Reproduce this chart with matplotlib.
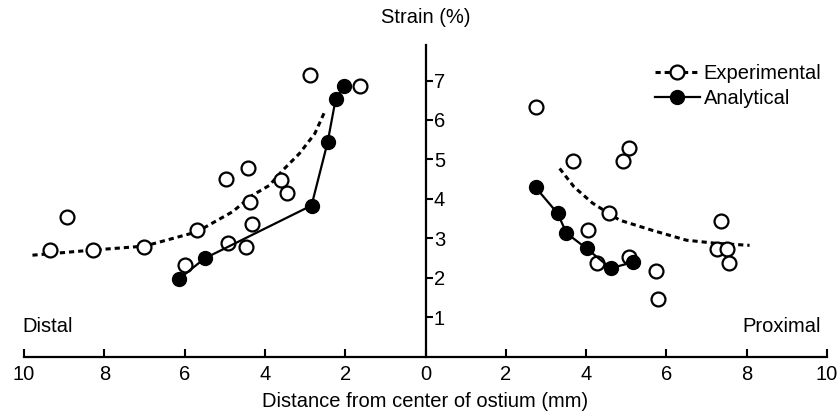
#!/usr/bin/env python3
"""Strain vs distance from ostium centre: experimental and analytical."""

import matplotlib
matplotlib.use("Agg")
import matplotlib.pyplot as plt

# distances are signed: distal side negative, proximal positive (mm)
exp_x = [-9.36, -8.92, -8.29, -7.0, -5.70, -5.98, -4.93, -4.48, -4.31, -4.36,
         -2.89, -1.62, -4.96, -4.43, -3.59, -3.46,
         2.76, 3.66, 4.91, 5.06, 4.56, 4.04, 4.26, 5.06, 5.73, 5.78,
         7.37, 7.25, 7.50, 7.55]
exp_y = [2.70, 3.53, 2.70, 2.77, 3.20, 2.32, 2.87, 2.77, 3.35, 3.92,
         7.13, 6.85, 4.49, 4.77, 4.47, 4.14,
         6.34, 4.95, 4.95, 5.28, 3.63, 3.22, 2.37, 2.52, 2.16, 1.46,
         3.43, 2.72, 2.72, 2.37]

ana_left_x = [-6.15, -5.50, -2.84, -2.44, -2.24, -2.02]
ana_left_y = [1.96, 2.49, 3.83, 5.43, 6.52, 6.85]
ana_right_x = [2.74, 3.29, 3.51, 4.01, 4.61, 5.16]
ana_right_y = [4.29, 3.63, 3.13, 2.74, 2.24, 2.39]

# dashed trend curves
fit_left_x = [-9.79, -9.2, -8.29, -7.0, -5.70, -4.81, -4.31, -3.89, -3.56, -3.14, -2.76, -2.52]
fit_left_y = [2.57, 2.62, 2.70, 2.80, 3.16, 3.67, 4.09, 4.34, 4.72, 5.15, 5.65, 6.19]
fit_right_x = [3.34, 3.7, 4.16, 4.83, 5.65, 6.50, 7.25, 8.07]
fit_right_y = [4.77, 4.30, 3.89, 3.46, 3.20, 2.95, 2.87, 2.82]

xticks = [-10, -8, -6, -4, -2, 0, 2, 4, 6, 8, 10]
xtick_labels = [str(abs(v)) for v in xticks]
yticks = [1, 2, 3, 4, 5, 6, 7]

FS = 14.5
plt.rcParams["font.family"] = ["Liberation Sans", "DejaVu Sans"]
plt.rcParams["font.size"] = FS

fig = plt.figure(figsize=(8.4, 4.17), dpi=100)
ax = fig.add_axes([0.0286, 0.145, 0.956, 0.747])

dash = (0, (1.7, 1.3))
lw = 2.2
ms = 10
mew = 1.6

ax.plot(fit_left_x, fit_left_y, color="black", lw=lw, linestyle=dash, zorder=2)
ax.plot(fit_right_x, fit_right_y, color="black", lw=lw, linestyle=dash, zorder=2)

ax.plot(exp_x, exp_y, linestyle="none", marker="o", ms=ms,
        mfc="white", mec="black", mew=mew, zorder=3)

for xs, ys in [(ana_left_x, ana_left_y), (ana_right_x, ana_right_y)]:
    ax.plot(xs, ys, color="black", lw=1.6, marker="o", ms=ms,
            mfc="black", mec="black", zorder=4)

# legend handles
h_exp, = ax.plot([], [], color="black", lw=lw, linestyle=dash, marker="o",
                 ms=ms, mfc="white", mec="black", mew=mew)
h_ana, = ax.plot([], [], color="black", lw=1.6, marker="o", ms=ms,
                 mfc="black", mec="black")
ax.legend([h_exp, h_ana], ["Experimental", "Analytical"],
          loc="upper left", bbox_to_anchor=(0.776, 0.965), frameon=False,
          handlelength=2.2, handletextpad=0.2, labelspacing=0.3,
          borderaxespad=0, fontsize=FS)

ax.set_xlim(-10, 10)
ax.set_ylim(0, 7.9)

ax.spines["top"].set_visible(False)
ax.spines["left"].set_visible(False)
ax.spines["right"].set_position(("data", 0))
ax.spines["bottom"].set_position(("data", 0))
for s in ("right", "bottom"):
    ax.spines[s].set_linewidth(1.6)

ax.yaxis.set_ticks_position("right")
ax.set_yticks(yticks)
ax.tick_params(axis="y", direction="out", length=5, width=1.5, pad=1)

ax.set_xticks(xticks)
ax.set_xticklabels(xtick_labels)
ax.tick_params(axis="x", direction="in", length=6, width=1.5, pad=6)

ax.set_xlabel("Distance from center of ostium (mm)", labelpad=6)
ax.text(0, 8.6, "Strain (%)", ha="center", va="center", fontsize=FS)
ax.text(-10.05, 0.75, "Distal", ha="left", va="center", fontsize=FS)
ax.text(9.85, 0.75, "Proximal", ha="right", va="center", fontsize=FS)

fig.savefig("out.png", dpi=100)
